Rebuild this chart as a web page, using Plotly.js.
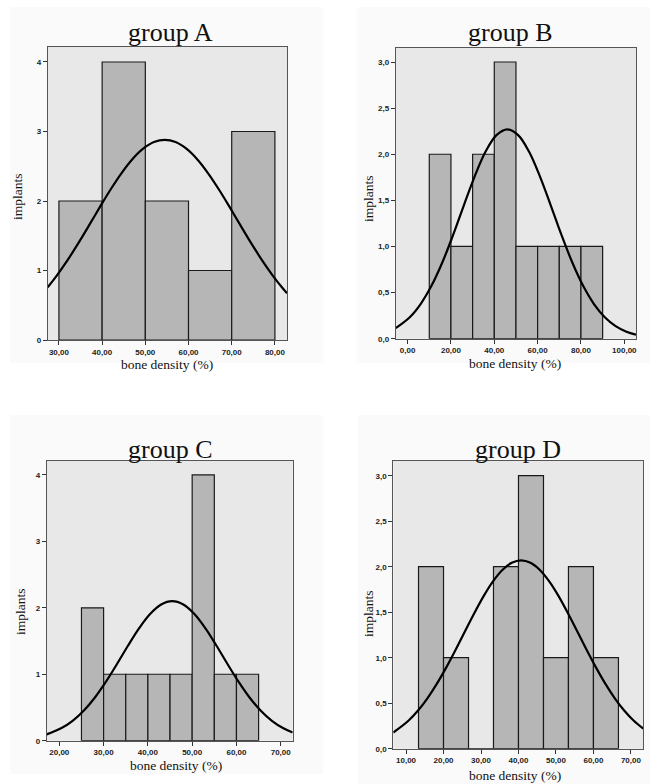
<!DOCTYPE html>
<html>
<head>
<meta charset="utf-8">
<script src="https://cdn.plot.ly/plotly-3.0.1.min.js"></script>
<style>
html,body{margin:0;padding:0;background:#fff;}
#chart{width:665px;height:784px;}
</style>
</head>
<body>
<div id="chart"></div>
<script>
// ---------------- DATA ----------------
const groupNames = ["group A", "group B", "group C", "group D"];
const xAxisLabel = "bone density (%)";
const yAxisLabel = "implants";

// Group A histogram
const binEdgesA = [30, 40, 50, 60, 70, 80];
const countsA = [2, 4, 2, 1, 3];
// Group A normal curve
const curveXA = [27.4, 29.5, 32, 34.5, 37, 39.5, 42, 44.5, 47, 49.5, 52, 54.5, 57, 59.5, 62, 64.5, 67, 69.5, 72, 74.5, 77, 79.5, 82, 82.8];
const curveYA = [0.759, 0.927, 1.149, 1.394, 1.652, 1.915, 2.169, 2.402, 2.601, 2.752, 2.848, 2.88, 2.848, 2.752, 2.601, 2.402, 2.169, 1.915, 1.652, 1.394, 1.149, 0.927, 0.730, 0.674];

// Group B histogram
const binEdgesB = [10, 20, 30, 40, 50, 60, 70, 80, 90];
const countsB = [2, 1, 2, 3, 1, 1, 1, 1];
const curveXB = [-5.5, 1, 6, 11, 16, 21, 26, 31, 36, 41, 46, 51, 56, 61, 66, 71, 76, 81, 86, 91, 96, 101, 105.4];
const curveYB = [0.115, 0.233, 0.376, 0.573, 0.826, 1.125, 1.449, 1.763, 2.029, 2.207, 2.27, 2.207, 2.029, 1.763, 1.449, 1.125, 0.826, 0.573, 0.376, 0.233, 0.137, 0.076, 0.043];

// Group C histogram
const binEdgesC = [25, 30, 35, 40, 45, 50, 55, 60, 65];
const countsC = [2, 1, 1, 1, 1, 4, 1, 1];
const curveXC = [17.15, 20.5, 23, 25.5, 28, 30.5, 33, 35.5, 38, 40.5, 43, 45.5, 48, 50.5, 53, 55.5, 58, 60.5, 63, 65.5, 68, 70.5, 72.7];
const curveYC = [0.095, 0.190, 0.299, 0.451, 0.646, 0.884, 1.151, 1.429, 1.691, 1.907, 2.050, 2.1, 2.050, 1.907, 1.691, 1.429, 1.151, 0.884, 0.646, 0.451, 0.299, 0.190, 0.122];

// Group D histogram
const binEdgesD = [13.33, 20.00, 26.67, 33.33, 40.00, 46.67, 53.33, 60.00, 66.67];
const countsD = [2, 1, 0, 2, 3, 1, 2, 1];
const curveXD = [6.6, 10.7, 13.2, 15.7, 18.2, 20.7, 23.2, 25.7, 28.2, 30.7, 33.2, 35.7, 38.2, 40.7, 43.2, 45.7, 48.2, 50.7, 53.2, 55.7, 58.2, 60.7, 63.2, 65.7, 68.2, 70.7, 73.3];
const curveYD = [0.178, 0.310, 0.420, 0.554, 0.712, 0.891, 1.085, 1.288, 1.489, 1.677, 1.839, 1.964, 2.043, 2.07, 2.043, 1.964, 1.839, 1.677, 1.489, 1.288, 1.085, 0.891, 0.712, 0.554, 0.420, 0.310, 0.220];

// ---------------- LAYOUT CONFIG ----------------
const W = 665, H = 784;
const fx = p => p / W;
const fy = p => 1 - p / H;

const panels = [
  {edges: binEdgesA, counts: countsA, cx: curveXA, cy: curveYA,
   box: [47.7, 46.7, 287, 340], xr: [27.4, 82.8], yr: [0, 4.22], xd: 10, yd: 1, yfmt: ".0f",
   title: [171, 33], xt: [167, 364], yt: [18, 197], bg: [10, 7, 323, 363]},
  {edges: binEdgesB, counts: countsB, cx: curveXB, cy: curveYB,
   box: [395.7, 47.7, 636, 338.7], xr: [-5.5, 105.4], yr: [0, 3.155], xd: 20, yd: 0.5, yfmt: ".1f",
   title: [511, 33], xt: [515, 363], yt: [368, 199], bg: [357, 7, 650, 363]},
  {edges: binEdgesC, counts: countsC, cx: curveXC, cy: curveYC,
   box: [46.7, 461, 292.7, 740.7], xr: [17.15, 72.7], yr: [0, 4.21], xd: 10, yd: 1, yfmt: ".0f",
   title: [171, 449], xt: [175.5, 765], yt: [20, 612], bg: [10, 415, 323, 774]},
  {edges: binEdgesD, counts: countsD, cx: curveXD, cy: curveYD,
   box: [393.3, 460.7, 643.3, 748.7], xr: [6.6, 73.3], yr: [0, 3.165], xd: 10, yd: 0.5, yfmt: ".1f",
   title: [518, 449], xt: [515, 775], yt: [368, 614], bg: [358, 415, 650, 784]}
];

const traces = [];
const layout = {
  width: W, height: H,
  margin: {l: 0, r: 0, t: 0, b: 0},
  paper_bgcolor: "#ffffff",
  showlegend: false,
  separators: ", ",
  bargap: 0,
  annotations: [],
  shapes: []
};

const tickFont = {family: "Liberation Sans Narrow, Liberation Sans, Arial, sans-serif", size: 8, color: "#222", weight: "bold"};
const serif = "Liberation Serif, Times New Roman, serif";

panels.forEach((p, i) => {
  const n = i === 0 ? "" : String(i + 1);
  const xa = "x" + n, ya = "y" + n;
  const centers = p.counts.map((_, k) => (p.edges[k] + p.edges[k + 1]) / 2);
  const widths = p.counts.map((_, k) => p.edges[k + 1] - p.edges[k]);
  traces.push({
    type: "bar", x: centers, y: p.counts, width: widths,
    xaxis: xa, yaxis: ya,
    marker: {color: "#b6b6b6", line: {color: "#1a1a1a", width: 1.2}},
    hoverinfo: "skip"
  });
  traces.push({
    type: "scatter", mode: "lines", x: p.cx, y: p.cy,
    xaxis: xa, yaxis: ya,
    line: {color: "#000", width: 2.2, shape: "spline", smoothing: 1},
    hoverinfo: "skip", cliponaxis: true
  });
  const [x0, y0, x1, y1] = p.box;
  layout["xaxis" + n] = {
    domain: [fx(x0), fx(x1)], anchor: ya, range: p.xr,
    tick0: 0, dtick: p.xd, tickformat: ".2f",
    ticks: "outside", ticklen: 4, tickwidth: 1, tickcolor: "#333",
    showline: true, mirror: true, linecolor: "#555", linewidth: 1,
    showgrid: false, zeroline: false, tickfont: tickFont, fixedrange: true
  };
  layout["yaxis" + n] = {
    domain: [fy(y1), fy(y0)], anchor: xa, range: p.yr,
    tick0: 0, dtick: p.yd, tickformat: p.yfmt,
    ticks: "outside", ticklen: 4, tickwidth: 1, tickcolor: "#333",
    showline: true, mirror: true, linecolor: "#555", linewidth: 1,
    showgrid: false, zeroline: false, tickfont: tickFont, fixedrange: true
  };
  // panel and plot backgrounds
  layout.shapes.push({
    type: "rect", xref: "paper", yref: "paper", layer: "below",
    x0: fx(p.bg[0]), x1: fx(p.bg[2]), y0: fy(p.bg[3]), y1: fy(p.bg[1]),
    fillcolor: "#fafafa", line: {width: 0}
  });
  layout.shapes.push({
    type: "rect", xref: "paper", yref: "paper", layer: "below",
    x0: fx(x0), x1: fx(x1), y0: fy(y1), y1: fy(y0),
    fillcolor: "#e8e8e8", line: {width: 0}
  });
  layout.annotations.push({
    text: groupNames[i], xref: "paper", yref: "paper",
    x: fx(p.title[0]), y: fy(p.title[1]), xanchor: "center", yanchor: "middle",
    showarrow: false, font: {family: serif, size: 26, color: "#111"}
  });
  layout.annotations.push({
    text: xAxisLabel, xref: "paper", yref: "paper",
    x: fx(p.xt[0]), y: fy(p.xt[1]), xanchor: "center", yanchor: "middle",
    showarrow: false, font: {family: serif, size: 13.5, color: "#111"}
  });
  layout.annotations.push({
    text: yAxisLabel, xref: "paper", yref: "paper", textangle: -90,
    x: fx(p.yt[0]), y: fy(p.yt[1]), xanchor: "center", yanchor: "middle",
    showarrow: false, font: {family: serif, size: 13.5, color: "#111"}
  });
});
layout.plot_bgcolor = "rgba(0,0,0,0)";

Plotly.newPlot("chart", traces, layout, {staticPlot: true, displayModeBar: false});
</script>
</body>
</html>
